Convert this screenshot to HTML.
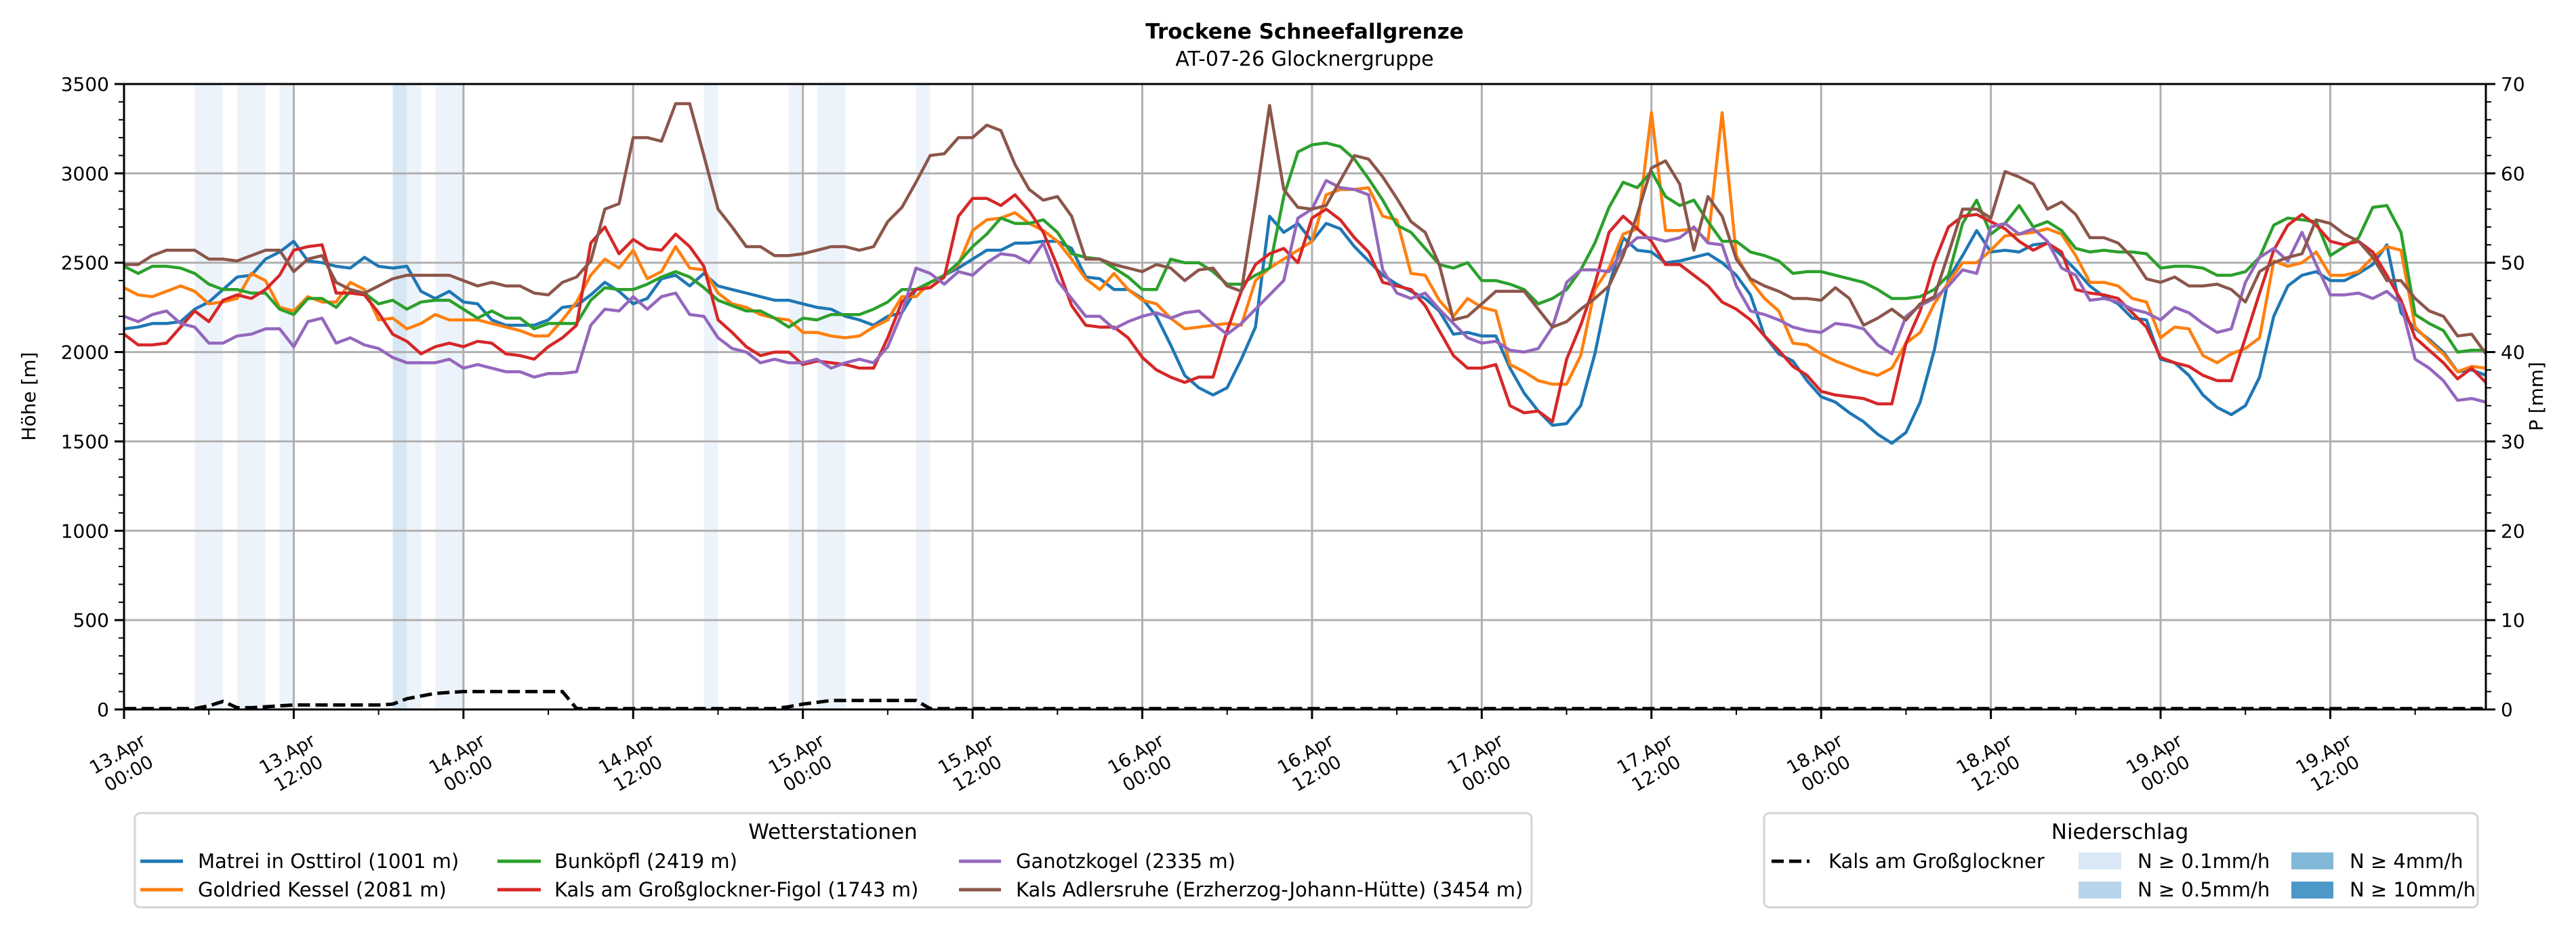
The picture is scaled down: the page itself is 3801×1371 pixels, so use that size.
<!DOCTYPE html>
<html><head><meta charset="utf-8">
<style>
html,body{margin:0;padding:0;background:#fff;}
svg{display:block;font-family:"DejaVu Sans","Liberation Sans",sans-serif;}
</style></head>
<body>
<svg id="chart" width="3801" height="1371" viewBox="0 0 3801 1371" xmlns="http://www.w3.org/2000/svg">
<rect x="0" y="0" width="3801" height="1371" fill="#fff"/>
<text x="1925" y="57" text-anchor="middle" font-size="31" font-weight="bold">Trockene Schneefallgrenze</text>
<text x="1925" y="97" text-anchor="middle" font-size="30">AT-07-26 Glocknergruppe</text>
<g id="bands"></g>
<g id="grid"></g>
<g id="series"></g>
<g id="axes"></g>
<text transform="translate(52,585) rotate(-90)" text-anchor="middle" font-size="28">Höhe [m]</text>
<text transform="translate(3752,585) rotate(-90)" text-anchor="middle" font-size="28">P [mm]</text>

<g>
<rect x="199" y="1200" width="2061" height="139" rx="8" fill="#fff" stroke="#d4d4d4" stroke-width="3"/>
<text x="1229" y="1238" text-anchor="middle" font-size="31">Wetterstationen</text>
<g><line x1="207" y1="1271" x2="270" y2="1271" stroke="#1f77b4" stroke-width="5"/><text x="292" y="1281" font-size="29">Matrei in Osttirol (1001 m)</text></g>
<g><line x1="207" y1="1313" x2="270" y2="1313" stroke="#ff7f0e" stroke-width="5"/><text x="292" y="1323" font-size="29">Goldried Kessel (2081 m)</text></g>
<g><line x1="734" y1="1271" x2="798" y2="1271" stroke="#2ca02c" stroke-width="5"/><text x="818" y="1281" font-size="29">Bunköpfl (2419 m)</text></g>
<g><line x1="734" y1="1313" x2="798" y2="1313" stroke="#d62728" stroke-width="5"/><text x="818" y="1323" font-size="29">Kals am Großglockner-Figol (1743 m)</text></g>
<g><line x1="1415" y1="1271" x2="1477" y2="1271" stroke="#9467bd" stroke-width="5"/><text x="1499" y="1281" font-size="29">Ganotzkogel (2335 m)</text></g>
<g><line x1="1415" y1="1313" x2="1477" y2="1313" stroke="#8c564b" stroke-width="5"/><text x="1499" y="1323" font-size="29">Kals Adlersruhe (Erzherzog-Johann-Hütte) (3454 m)</text></g>
</g>

<g>
<rect x="2603" y="1200" width="1053" height="139" rx="8" fill="#fff" stroke="#d4d4d4" stroke-width="3"/>
<text x="3128" y="1238" text-anchor="middle" font-size="31">Niederschlag</text>
<g><line x1="2614" y1="1271" x2="2670" y2="1271" stroke="#000" stroke-width="5" stroke-dasharray="18,8"/><text x="2698" y="1281" font-size="29">Kals am Großglockner</text></g>
<g><rect x="3067" y="1258" width="63" height="25" fill="#dae8f5"/><text x="3154" y="1281" font-size="29">N ≥ 0.1mm/h</text></g>
<g><rect x="3067" y="1301" width="63" height="25" fill="#b8d4ea"/><text x="3154" y="1323" font-size="29">N ≥ 0.5mm/h</text></g>
<g><rect x="3381" y="1258" width="62" height="25" fill="#82b8d8"/><text x="3467" y="1281" font-size="29">N ≥ 4mm/h</text></g>
<g><rect x="3381" y="1301" width="62" height="25" fill="#4b98c9"/><text x="3467" y="1323" font-size="29">N ≥ 10mm/h</text></g>
</g>
</svg>
<script>
const matrei = [2130,2140,2160,2160,2170,2240,2280,2350,2420,2430,2520,2560,2620,2510,2500,2480,2470,2530,2480,2470,2480,2340,2300,2340,2280,2270,2180,2150,2150,2150,2180,2250,2260,2320,2390,2340,2270,2300,2410,2430,2370,2440,2370,
2350,2330,2310,2290,2290,2270,2250,2240,2200,2180,2150,2200,2220,2350,2390,2430,2470,2520,2570,2570,2610,2610,2620,2620,2580,2420,2410,2350,2350,2300,2200,2040,1870,1800,1760,1800,1960,2140,2760,2670,2720,2620,
2720,2690,2590,2510,2430,2380,2340,2300,2230,2100,2110,2090,2090,1910,1770,1670,1590,1600,1700,1990,2370,2640,2570,2560,2500,2510,2530,2550,2500,2430,2320,2090,1990,1950,1840,1750,1720,1660,1610,1540,1490,1550,
1720,2010,2410,2540,2680,2560,2570,2560,2600,2610,2540,2460,2370,2310,2270,2190,2180,1960,1940,1870,1760,1690,1650,1700,1860,2200,2370,2430,2450,2400,2400,2440,2490,2600,2220,2130,2070,2000,1890,1900,1870];
const goldried = [2360,2320,2310,2340,2370,2340,2270,2280,2300,2440,2400,2250,2230,2310,2280,2280,2390,2350,2180,2190,2130,2160,2210,2180,2180,2180,2160,2140,2120,2090,2090,2180,2280,2430,2520,2470,2570,2410,2450,2590,2470,2460,2330,
2270,2250,2210,2190,2180,2110,2110,2090,2080,2090,2140,2180,2310,2310,2390,2430,2490,2680,2740,2750,2780,2720,2680,2620,2520,2410,2350,2440,2350,2290,2270,2190,2130,2140,2150,2160,2150,2400,2470,2520,2570,2620,
2880,2910,2910,2920,2760,2740,2440,2430,2290,2200,2300,2250,2230,1930,1890,1840,1820,1820,1980,2350,2470,2660,2690,3340,2680,2680,2690,2620,3340,2540,2400,2300,2230,2050,2040,1990,1950,1920,1890,1870,1910,2050,
2110,2270,2390,2500,2500,2570,2650,2660,2670,2690,2660,2540,2390,2390,2370,2300,2280,2080,2140,2130,1980,1940,1990,2020,2080,2510,2480,2500,2560,2430,2430,2450,2530,2590,2570,2140,2060,1990,1890,1920,1910];
const bunkoepfl = [2480,2440,2480,2480,2470,2440,2380,2350,2350,2330,2330,2240,2210,2300,2300,2250,2340,2330,2270,2290,2240,2280,2290,2290,2240,2190,2230,2190,2190,2130,2160,2160,2160,2290,2360,2350,2350,2380,2420,2450,2420,2360,2290,
2260,2230,2230,2190,2140,2190,2180,2210,2210,2210,2240,2280,2350,2350,2390,2430,2500,2590,2660,2750,2720,2720,2740,2670,2550,2530,2520,2470,2420,2350,2350,2520,2500,2500,2450,2380,2380,2430,2470,2870,3120,3160,
3170,3150,3080,2970,2850,2710,2670,2580,2490,2470,2500,2400,2400,2380,2350,2270,2300,2350,2460,2610,2810,2950,2920,3010,2870,2820,2850,2730,2620,2620,2560,2540,2510,2440,2450,2450,2430,2410,2390,2350,2300,2300,
2310,2350,2430,2720,2850,2660,2720,2820,2700,2730,2680,2580,2560,2570,2560,2560,2550,2470,2480,2480,2470,2430,2430,2450,2530,2710,2750,2740,2730,2540,2590,2640,2810,2820,2670,2210,2160,2120,2000,2010,2010];
const kalsFigol = [2100,2040,2040,2050,2140,2230,2170,2290,2320,2300,2350,2430,2570,2590,2600,2330,2330,2320,2220,2100,2060,1990,2030,2050,2030,2060,2050,1990,1980,1960,2030,2080,2150,2610,2700,2550,2630,2580,2570,2660,2590,2480,2180,
2110,2030,1980,2000,2000,1930,1950,1940,1930,1910,1910,2080,2280,2350,2360,2420,2760,2860,2860,2820,2880,2790,2670,2480,2260,2150,2140,2140,2080,1970,1900,1860,1830,1860,1860,2120,2340,2490,2550,2580,2500,2750,
2800,2740,2640,2560,2390,2370,2350,2260,2120,1980,1910,1910,1930,1700,1660,1670,1610,1960,2150,2380,2670,2760,2690,2620,2490,2490,2430,2370,2280,2240,2180,2090,2010,1920,1870,1780,1760,1750,1740,1710,1710,2050,
2230,2500,2700,2760,2770,2730,2690,2620,2570,2610,2560,2350,2330,2320,2300,2220,2140,1970,1940,1920,1870,1840,1840,2080,2330,2570,2710,2770,2710,2620,2600,2620,2560,2430,2290,2080,2010,1940,1850,1910,1830];
const ganotzkogel = [2200,2170,2210,2230,2160,2140,2050,2050,2090,2100,2130,2130,2030,2170,2190,2050,2080,2040,2020,1970,1940,1940,1940,1960,1910,1930,1910,1890,1890,1860,1880,1880,1890,2150,2240,2230,2310,2240,2310,2330,2210,2200,2080,
2020,2000,1940,1960,1940,1940,1960,1910,1940,1960,1940,2030,2220,2470,2440,2380,2450,2430,2500,2550,2540,2500,2610,2400,2300,2200,2200,2130,2170,2200,2220,2190,2220,2230,2160,2100,2160,2240,2320,2400,2750,2800,
2960,2920,2910,2880,2460,2330,2300,2330,2240,2160,2080,2050,2060,2010,2000,2020,2140,2390,2460,2460,2450,2570,2640,2640,2620,2640,2700,2610,2600,2370,2230,2210,2180,2140,2120,2110,2160,2150,2130,2040,1990,2200,
2260,2300,2370,2460,2440,2700,2720,2660,2690,2620,2470,2430,2290,2300,2280,2240,2220,2180,2250,2220,2160,2110,2130,2390,2530,2580,2510,2670,2490,2320,2320,2330,2300,2340,2270,1960,1910,1840,1730,1740,1720];
const adlersruhe = [2490,2490,2540,2570,2570,2570,2520,2520,2510,2540,2570,2570,2450,2520,2540,2390,2350,2330,2370,2410,2430,2430,2430,2430,2400,2370,2390,2370,2370,2330,2320,2390,2420,2510,2800,2830,3200,3200,3180,3390,3390,3100,2800,
2700,2590,2590,2540,2540,2550,2570,2590,2590,2570,2590,2730,2810,2950,3100,3110,3200,3200,3270,3240,3050,2910,2850,2870,2760,2520,2520,2490,2470,2450,2490,2470,2400,2460,2470,2370,2340,2840,3380,2910,2810,2800,
2820,2960,3100,3080,2980,2860,2730,2670,2490,2180,2200,2270,2340,2340,2340,2240,2140,2170,2240,2300,2370,2540,2770,3030,3070,2940,2570,2870,2760,2520,2410,2370,2340,2300,2300,2290,2360,2300,2150,2190,2240,2180,
2270,2310,2550,2800,2800,2750,3010,2980,2940,2800,2840,2770,2640,2640,2610,2530,2410,2390,2420,2370,2370,2380,2350,2280,2450,2500,2530,2550,2740,2720,2660,2620,2530,2400,2400,2300,2230,2200,2090,2100,1990];
const precipKals = [0.1,0.1,0.1,0.1,0.1,0.1,0.4,0.9,0.2,0.2,0.3,0.4,0.5,0.5,0.5,0.5,0.5,0.5,0.5,0.6,1.2,1.5,1.8,1.9,
2.0,2.0,2.0,2.0,2.0,2.0,2.0,2.0,0.1,0.1,0.1,0.1,0.1,0.1,0.1,0.1,0.1,0.1,0.1,0.1,0.1,0.1,0.1,0.3,
0.6,0.8,1.0,1.0,1.0,1.0,1.0,1.0,1.0,0.1,0.1,0.1,0.1,0.1,0.1,0.1,0.1,0.1,0.1,0.1,0.1,0.1,0.1,0.1,
0.1,0.1,0.1,0.1,0.1,0.1,0.1,0.1,0.1,0.1,0.1,0.1,0.1,0.1,0.1,0.1,0.1,0.1,0.1,0.1,0.1,0.1,0.1,0.1,
0.1,0.1,0.1,0.1,0.1,0.1,0.1,0.1,0.1,0.1,0.1,0.1,0.1,0.1,0.1,0.1,0.1,0.1,0.1,0.1,0.1,0.1,0.1,0.1,
0.1,0.1,0.1,0.1,0.1,0.1,0.1,0.1,0.1,0.1,0.1,0.1,0.1,0.1,0.1,0.1,0.1,0.1,0.1,0.1,0.1,0.1,0.1,0.1,
0.1,0.1,0.1,0.1,0.1,0.1,0.1,0.1,0.1,0.1,0.1,0.1,0.1,0.1,0.1,0.1,0.1,0.1,0.1,0.1,0.1,0.1,0.1,0.1];
const bandHours = [5,6,8,9,11,19,20,22,23,41,47,49,50,56];
const bandLevels = [1,1,1,1,1,2,1,1,1,1,1,1,1,1];
const xTickHours = [0,12,24,36,48,60,72,84,96,108,120,132,144,156];
const xTickDates = ["13.Apr","13.Apr","14.Apr","14.Apr","15.Apr","15.Apr","16.Apr","16.Apr","17.Apr","17.Apr","18.Apr","18.Apr","19.Apr","19.Apr"];
const xTickTimes = ["00:00","12:00","00:00","12:00","00:00","12:00","00:00","12:00","00:00","12:00","00:00","12:00","00:00","12:00"];
const yTicks = [0,500,1000,1500,2000,2500,3000,3500];
const y2Ticks = [0,10,20,30,40,50,60,70];

const NS = "http://www.w3.org/2000/svg";
const L = 183, R = 3668, T = 124, B = 1047;
const HMAX = 167, VMAX = 3500, PMAX = 70;
function xs(h){ return L + h * (R - L) / HMAX; }
function ys(v){ return B - v * (B - T) / VMAX; }
function yp(p){ return B - p * (B - T) / PMAX; }
function mk(tag, attrs, parent){
  const e = document.createElementNS(NS, tag);
  for (const k in attrs) e.setAttribute(k, attrs[k]);
  parent.appendChild(e);
  return e;
}
const gBands = document.getElementById('bands');
const gGrid = document.getElementById('grid');
const gSeries = document.getElementById('series');
const gAxes = document.getElementById('axes');
const hourW = (R - L) / HMAX;
const bandColors = ["none", "#edf3fa", "#d7e6f3", "#c0d9ee", "#a8cbe6"];

bandHours.forEach((h, i) => {
  const r = mk('rect', {x: xs(h), y: T, width: hourW, height: B - T, fill: bandColors[bandLevels[i]]}, gBands);
  
  
});

yTicks.forEach(v => {
  const l = mk('line', {x1: L, x2: R, y1: ys(v), y2: ys(v), stroke: '#b0b0b0', 'stroke-width': 3}, gGrid);
  
  
});
xTickHours.forEach(h => {
  const l = mk('line', {x1: xs(h), x2: xs(h), y1: T, y2: B, stroke: '#b0b0b0', 'stroke-width': 3}, gGrid);
  
  
});

const seriesList = [
  ['matrei-line', matrei, '#1f77b4'],
  ['goldried-line', goldried, '#ff7f0e'],
  ['bunkoepfl-line', bunkoepfl, '#2ca02c'],
  ['kals-figol-line', kalsFigol, '#d62728'],
  ['ganotzkogel-line', ganotzkogel, '#9467bd'],
  ['adlersruhe-line', adlersruhe, '#8c564b']
];
seriesList.forEach(s => {
  const pts = s[1].map((v, i) => xs(i).toFixed(1) + ',' + ys(v).toFixed(1)).join(' ');
  const p = mk('polyline', {points: pts, fill: 'none', stroke: s[2], 'stroke-width': 4.5, 'stroke-linejoin': 'round'}, gSeries);
  
  
});
const ppts = precipKals.map((v, i) => xs(i).toFixed(1) + ',' + yp(v).toFixed(1)).join(' ');
const pl = mk('polyline', {points: ppts, fill: 'none', stroke: '#000', 'stroke-width': 5, 'stroke-dasharray': '18,8'}, gSeries);



[[L, T, R, T], [L, B, R, B], [L, T, L, B], [R, T, R, B]].forEach(c => {
  const l = mk('line', {x1: c[0], y1: c[1], x2: c[2], y2: c[3], stroke: '#000', 'stroke-width': 3, 'stroke-linecap': 'square'}, gAxes);
  
  
});
for (let v = 0; v <= VMAX; v += 100) {
  const major = v % 500 === 0;
  const l = mk('line', {x1: L - (major ? 14 : 8), x2: L, y1: ys(v), y2: ys(v), stroke: '#000', 'stroke-width': major ? 3 : 2}, gAxes);
  
  
}
yTicks.forEach(v => {
  const t = mk('text', {x: L - 22, y: ys(v) + 10, 'text-anchor': 'end', 'font-size': 28}, gAxes);
  t.textContent = v;
  
  
});
for (let p = 0; p <= PMAX; p += 2) {
  const major = p % 10 === 0;
  const l = mk('line', {x1: R, x2: R + (major ? 14 : 8), y1: yp(p), y2: yp(p), stroke: '#000', 'stroke-width': major ? 3 : 2}, gAxes);
  
  
}
y2Ticks.forEach(p => {
  const t = mk('text', {x: R + 22, y: yp(p) + 10, 'text-anchor': 'start', 'font-size': 28}, gAxes);
  t.textContent = p;
  
  
});
for (let h = 0; h <= HMAX; h += 6) {
  const major = h % 12 === 0;
  const l = mk('line', {x1: xs(h), x2: xs(h), y1: B, y2: B + (major ? 14 : 8), stroke: '#000', 'stroke-width': major ? 3 : 2}, gAxes);
  
  
}
xTickHours.forEach((h, i) => {
  const cx = xs(h) - 2, cy = 1126;
  const t = mk('text', {transform: 'translate(' + cx + ',' + cy + ') rotate(-30)', 'text-anchor': 'middle', 'font-size': 27}, gAxes);
  
  
  const a = mk('tspan', {x: 0, y: -6}, t);
  a.textContent = xTickDates[i];
  const b = mk('tspan', {x: 0, y: 27}, t);
  b.textContent = xTickTimes[i];
});
</script>
</body></html>
